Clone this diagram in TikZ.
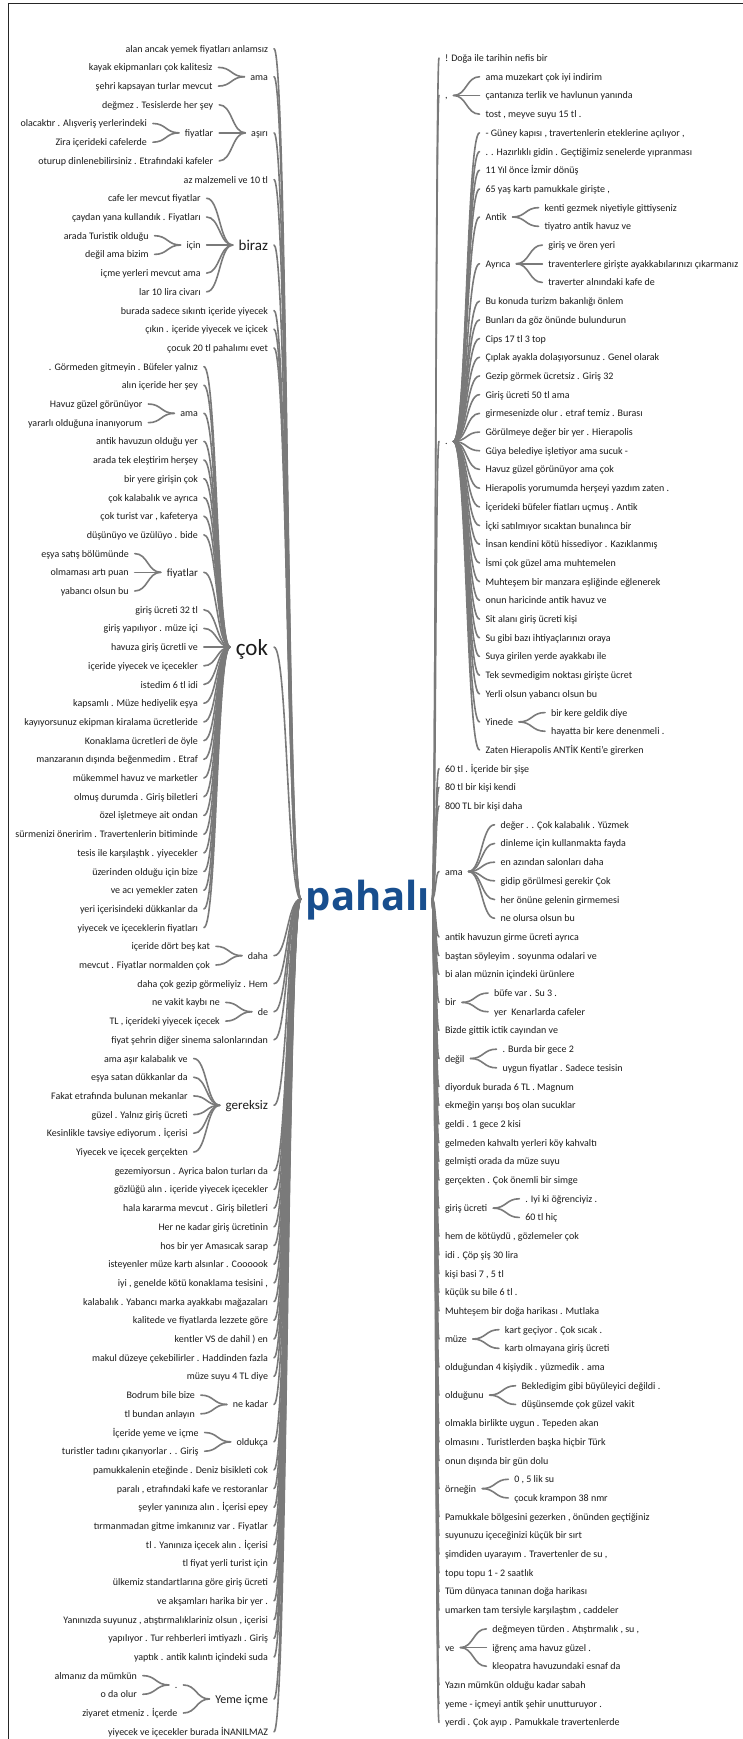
\documentclass[tikz,border=0pt]{standalone}
\usepackage{fontspec}
\setmainfont{Carlito}
\newfontfamily\rootfont{Open Sans}
\usetikzlibrary{calc}
\definecolor{textc}{RGB}{28,28,28}
\definecolor{linkc}{RGB}{122,122,122}
\definecolor{rootc}{RGB}{24,78,142}
\tikzset{
  w/.style={font=\fontsize{10}{12}\selectfont, inner sep=0pt, outer xsep=6pt, outer ysep=0pt,
            text height=8pt, text depth=1pt, text=textc},
  w11/.style={w, font=\fontsize{11}{13}\selectfont, text height=8.8pt, text depth=1.1pt},
  w12/.style={w, font=\fontsize{12}{14}\selectfont, text height=9.6pt, text depth=1.2pt},
  w13/.style={w, font=\fontsize{13}{15}\selectfont, text height=10.4pt, text depth=1.3pt},
  w15/.style={w, font=\fontsize{15}{17}\selectfont, text height=12pt, text depth=1.5pt},
  w23/.style={w, font=\fontsize{23}{26}\selectfont, text height=18.4pt, text depth=2.3pt},
  rootword/.style={font=\rootfont\bfseries\fontsize{40}{44}\selectfont, inner sep=0pt, outer sep=0pt,
            text height=30pt, text depth=8.4pt, text=rootc},
  link/.style={draw=linkc, line width=1.6pt, line cap=round},
  frame/.style={draw=black!85, line width=1.6pt}
}
% curved connector with both control points at the horizontal midpoint
\newcommand\wlink[2]{\draw[link] (#1) .. controls ($(#1)!0.5!(#2 |- #1)$) and ($(#2)!0.5!(#1 |- #2)$) .. (#2);}
% first-level words, hung on the two joints beside the root
\newcommand\wrl[4][w]{\node[#1, anchor=east] (#2) at (274,{30+18.7*#3}) {#4};\wlink{#2.east}{PL}}
\newcommand\wrr[4][w]{\node[#1, anchor=west] (#2) at (439,{39.35+18.7*#3}) {#4};\wlink{PR}{#2.west}}
% deeper words, placed beside their parent
\newcommand\wtl[5][w]{\node[#1, anchor=east, xshift=-26pt] (#2) at (#3.west |- 0,{30+18.7*#4}) {#5};\wlink{#2.east}{#3.west}}
\newcommand\wtr[5][w]{\node[#1, anchor=west, xshift=26pt] (#2) at (#3.east |- 0,{39.35+18.7*#4}) {#5};\wlink{#3.east}{#2.west}}

\begin{document}
\begin{tikzpicture}[x=1pt,y=-1pt]
\useasboundingbox (0,0) rectangle (743,1739);
\fill[white] (0,0) rectangle (743,1739);
\clip (0,0) rectangle (743,1739);
\draw[frame] (8.5,1745) -- (8.5,3.5) -- (750,3.5);

\node[rootword] (P) at (368,900) {pahalı};
\coordinate (PL) at ([xshift=-5pt,yshift=1pt]P.west);
\coordinate (PR) at ([xshift=2pt,yshift=1pt]P.east);

% ---------- words before "pahalı" ----------
\wrl{la}{1}{alan ancak yemek fiyatları anlamsız}
\wrl{lb}{2.5}{ama}
\wtl{lb1}{lb}{2}{kayak ekipmanları çok kalitesiz}
\wtl{lb2}{lb}{3}{şehri kapsayan turlar mevcut}
\wrl{lc}{5.5}{aşırı}
\wtl{lc1}{lc}{4}{değmez . Tesislerde her şey}
\wtl{lc2}{lc}{5.5}{fiyatlar}
\wtl{lc21}{lc2}{5}{olacaktır . Alışveriş yerlerindeki}
\wtl{lc22}{lc2}{6}{Zira içerideki cafelerde}
\wtl{lc3}{lc}{7}{oturup dinlenebilirsiniz . Etrafındaki kafeler}
\wrl{ld}{8}{az malzemeli ve 10 tl}
\wrl[w15]{le}{11.5}{biraz}
\wtl{le1}{le}{9}{cafe ler mevcut fiyatlar}
\wtl{le2}{le}{10}{çaydan yana kullandık . Fiyatları}
\wtl{le3}{le}{11.5}{için}
\wtl{le31}{le3}{11}{arada Turistik olduğu}
\wtl{le32}{le3}{12}{değil ama bizim}
\wtl{le4}{le}{13}{içme yerleri mevcut ama}
\wtl{le5}{le}{14}{lar 10 lira civarı}
\wrl{lf}{15}{burada sadece sıkıntı içeride yiyecek}
\wrl{lg}{16}{çıkın . içeride yiyecek ve içicek}
\wrl{lh}{17}{çocuk 20 tl pahalımı evet}
\wrl[w23]{lk}{33}{çok}
\wtl{lk01}{lk}{18}{. Görmeden gitmeyin . Büfeler yalnız}
\wtl{lk02}{lk}{19}{alın içeride her şey}
\wtl{lk03}{lk}{20.5}{ama}
\wtl{lk031}{lk03}{20}{Havuz güzel görünüyor}
\wtl{lk032}{lk03}{21}{yararlı olduğuna inanıyorum}
\wtl{lk04}{lk}{22}{antik havuzun olduğu yer}
\wtl{lk05}{lk}{23}{arada tek eleştirim herşey}
\wtl{lk06}{lk}{24}{bir yere girişin çok}
\wtl{lk07}{lk}{25}{çok kalabalık ve ayrıca}
\wtl{lk08}{lk}{26}{çok turist var , kafeterya}
\wtl{lk09}{lk}{27}{düşünüyo ve üzülüyo . bide}
\wtl[w11]{lk10}{lk}{29}{fiyatlar}
\wtl{lk101}{lk10}{28}{eşya satış bölümünde}
\wtl{lk102}{lk10}{29}{olmaması artı puan}
\wtl{lk103}{lk10}{30}{yabancı olsun bu}
\wtl{lk11}{lk}{31}{giriş ücreti 32 tl}
\wtl{lk12}{lk}{32}{giriş yapılıyor . müze içi}
\wtl{lk13}{lk}{33}{havuza giriş ücretli ve}
\wtl{lk14}{lk}{34}{içeride yiyecek ve içecekler}
\wtl{lk15}{lk}{35}{istedim 6 tl idi}
\wtl{lk16}{lk}{36}{kapsamlı . Müze hediyelik eşya}
\wtl{lk17}{lk}{37}{kayıyorsunuz ekipman kiralama ücretleride}
\wtl{lk18}{lk}{38}{Konaklama ücretleri de öyle}
\wtl{lk19}{lk}{39}{manzaranın dışında beğenmedim . Etraf}
\wtl{lk20}{lk}{40}{mükemmel havuz ve marketler}
\wtl{lk21}{lk}{41}{olmuş durumda . Giriş biletleri}
\wtl{lk22}{lk}{42}{özel işletmeye ait ondan}
\wtl{lk23}{lk}{43}{sürmenizi öneririm . Travertenlerin bitiminde}
\wtl{lk24}{lk}{44}{tesis ile karşılaştık . yiyecekler}
\wtl{lk25}{lk}{45}{üzerinden olduğu için bize}
\wtl{lk26}{lk}{46}{ve acı yemekler zaten}
\wtl{lk27}{lk}{47}{yeri içerisindeki dükkanlar da}
\wtl{lk28}{lk}{48}{yiyecek ve içeceklerin fiyatları}
\wrl{lm}{49.5}{daha}
\wtl{lm1}{lm}{49}{içeride dört beş kat}
\wtl{lm2}{lm}{50}{mevcut . Fiyatlar normalden çok}
\wrl{ln}{51}{daha çok gezip görmeliyiz . Hem}
\wrl{lo}{52.5}{de}
\wtl{lo1}{lo}{52}{ne vakit kaybı ne}
\wtl{lo2}{lo}{53}{TL , içerideki yiyecek içecek}
\wrl{lp}{54}{fiyat şehrin diğer sinema salonlarından}
\wrl[w13]{lq}{57.5}{gereksiz}
\wtl{lq1}{lq}{55}{ama aşır kalabalık ve}
\wtl{lq2}{lq}{56}{eşya satan dükkanlar da}
\wtl{lq3}{lq}{57}{Fakat etrafında bulunan mekanlar}
\wtl{lq4}{lq}{58}{güzel . Yalnız giriş ücreti}
\wtl{lq5}{lq}{59}{Kesinlikle tavsiye ediyorum . İçerisi}
\wtl{lq6}{lq}{60}{Yiyecek ve içecek gerçekten}
\wrl{lr01}{61}{gezemiyorsun . Ayrica balon turları da}
\wrl{lr02}{62}{gözlüğü alın . içeride yiyecek içecekler}
\wrl{lr03}{63}{hala kararma mevcut . Giriş biletleri}
\wrl{lr04}{64}{Her ne kadar giriş ücretinin}
\wrl{lr05}{65}{hos bir yer Amasıcak sarap}
\wrl{lr06}{66}{isteyenler müze kartı alsınlar . Coooook}
\wrl{lr07}{67}{iyi , genelde kötü konaklama tesisini ,}
\wrl{lr08}{68}{kalabalık . Yabancı marka ayakkabı mağazaları}
\wrl{lr09}{69}{kalitede ve fiyatlarda lezzete göre}
\wrl{lr10}{70}{kentler VS de dahil ) en}
\wrl{lr11}{71}{makul düzeye çekebilirler . Haddinden fazla}
\wrl{lr12}{72}{müze suyu 4 TL diye}
\wrl{ls}{73.5}{ne kadar}
\wtl{ls1}{ls}{73}{Bodrum bile bize}
\wtl{ls2}{ls}{74}{tl bundan anlayın}
\wrl{lt}{75.5}{oldukça}
\wtl{lt1}{lt}{75}{İçeride yeme ve içme}
\wtl{lt2}{lt}{76}{turistler tadını çıkarıyorlar . . Giriş}
\wrl{lu01}{77}{pamukkalenin eteğinde . Deniz bisikleti cok}
\wrl{lu02}{78}{paralı , etrafındaki kafe ve restoranlar}
\wrl{lu03}{79}{şeyler yanınıza alın . İçerisi epey}
\wrl{lu04}{80}{tırmanmadan gitme imkanınız var . Fiyatlar}
\wrl{lu05}{81}{tl . Yanınıza içecek alın . İçerisi}
\wrl{lu06}{82}{tl fiyat yerli turist için}
\wrl{lu07}{83}{ülkemiz standartlarına göre giriş ücreti}
\wrl{lu08}{84}{ve akşamları harika bir yer .}
\wrl{lu09}{85}{Yanınızda suyunuz , atıştırmalıklariniz olsun , içerisi}
\wrl{lu10}{86}{yapılıyor . Tur rehberleri imtiyazlı . Giriş}
\wrl{lu11}{87}{yaptık . antik kalıntı içindeki suda}
\wrl[w12]{lv}{89.25}{Yeme içme}
\wtl{lv1}{lv}{88.5}{.}
\wtl{lv11}{lv1}{88}{almanız da mümkün}
\wtl{lv12}{lv1}{89}{o da olur}
\wtl{lv2}{lv}{90}{ziyaret etmeniz . İçerde}
\wrl{lw}{91}{yiyecek ve içecekler burada İNANILMAZ}

% ---------- words after "pahalı" ----------
\wrr{ra}{1}{! Doğa ile tarihin nefis bir}
\wrr{rb}{3}{,}
\wtr{rb1}{rb}{2}{ama muzekart çok iyi indirim}
\wtr{rb2}{rb}{3}{çantanıza terlik ve havlunun yanında}
\wtr{rb3}{rb}{4}{tost , meyve suyu 15 tl .}
\wrr{rc}{21.5}{.}
\wtr{rc01}{rc}{5}{- Güney kapısı , travertenlerin eteklerine açılıyor ,}
\wtr{rc02}{rc}{6}{. . Hazırlıklı gidin . Geçtiğimiz senelerde yıpranması}
\wtr{rc03}{rc}{7}{11 Yıl önce İzmir dönüş}
\wtr{rc04}{rc}{8}{65 yaş kartı pamukkale girişte ,}
\wtr{rc05}{rc}{9.5}{Antik}
\wtr{rc051}{rc05}{9}{kenti gezmek niyetiyle gittiyseniz}
\wtr{rc052}{rc05}{10}{tiyatro antik havuz ve}
\wtr{rc06}{rc}{12}{Ayrıca}
\wtr{rc061}{rc06}{11}{giriş ve ören yeri}
\wtr{rc062}{rc06}{12}{traventerlere girişte ayakkabılarınızı çıkarmanız}
\wtr{rc063}{rc06}{13}{traverter alnındaki kafe de}
\wtr{rc07}{rc}{14}{Bu konuda turizm bakanlığı önlem}
\wtr{rc08}{rc}{15}{Bunları da göz önünde bulundurun}
\wtr{rc09}{rc}{16}{Cips 17 tl 3 top}
\wtr{rc10}{rc}{17}{Çıplak ayakla dolaşıyorsunuz . Genel olarak}
\wtr{rc11}{rc}{18}{Gezip görmek ücretsiz . Giriş 32}
\wtr{rc12}{rc}{19}{Giriş ücreti 50 tl ama}
\wtr{rc13}{rc}{20}{girmesenizde olur . etraf temiz . Burası}
\wtr{rc14}{rc}{21}{Görülmeye değer bir yer . Hierapolis}
\wtr{rc15}{rc}{22}{Güya belediye işletiyor ama sucuk -}
\wtr{rc16}{rc}{23}{Havuz güzel görünüyor ama çok}
\wtr{rc17}{rc}{24}{Hierapolis yorumumda herşeyi yazdım zaten .}
\wtr{rc18}{rc}{25}{İçerideki büfeler fiatları uçmuş . Antik}
\wtr{rc19}{rc}{26}{İçki satılmıyor sıcaktan bunalınca bir}
\wtr{rc20}{rc}{27}{İnsan kendini kötü hissediyor . Kazıklanmış}
\wtr{rc21}{rc}{28}{İsmi çok güzel ama muhtemelen}
\wtr{rc22}{rc}{29}{Muhteşem bir manzara eşliğinde eğlenerek}
\wtr{rc23}{rc}{30}{onun haricinde antik havuz ve}
\wtr{rc24}{rc}{31}{Sit alanı giriş ücreti kişi}
\wtr{rc25}{rc}{32}{Su gibi bazı ihtiyaçlarınızı oraya}
\wtr{rc26}{rc}{33}{Suya girilen yerde ayakkabı ile}
\wtr{rc27}{rc}{34}{Tek sevmedigim noktası girişte ücret}
\wtr{rc28}{rc}{35}{Yerli olsun yabancı olsun bu}
\wtr{rc29}{rc}{36.5}{Yinede}
\wtr{rc291}{rc29}{36}{bir kere geldik diye}
\wtr{rc292}{rc29}{37}{hayatta bir kere denenmeli .}
\wtr{rc30}{rc}{38}{Zaten Hierapolis ANTİK Kenti'e girerken}
\wrr{rd1}{39}{60 tl . İçeride bir şişe}
\wrr{rd2}{40}{80 tl bir kişi kendi}
\wrr{rd3}{41}{800 TL bir kişi daha}
\wrr{re}{44.5}{ama}
\wtr{re1}{re}{42}{değer . . Çok kalabalık . Yüzmek}
\wtr{re2}{re}{43}{dinleme için kullanmakta fayda}
\wtr{re3}{re}{44}{en azından salonları daha}
\wtr{re4}{re}{45}{gidip görülmesi gerekir Çok}
\wtr{re5}{re}{46}{her önüne gelenin girmemesi}
\wtr{re6}{re}{47}{ne olursa olsun bu}
\wrr{rf1}{48}{antik havuzun girme ücreti ayrıca}
\wrr{rf2}{49}{baştan söyleyim . soyunma odalari ve}
\wrr{rf3}{50}{bi alan müznin içindeki ürünlere}
\wrr{rg}{51.5}{bir}
\wtr{rg1}{rg}{51}{büfe var . Su 3 .}
\wtr{rg2}{rg}{52}{yer~ Kenarlarda cafeler}
\wrr{rh}{53}{Bizde gittik ictik cayından ve}
\wrr{ri}{54.5}{değil}
\wtr{ri1}{ri}{54}{. Burda bir gece 2}
\wtr{ri2}{ri}{55}{uygun fiyatlar . Sadece tesisin}
\wrr{rj1}{56}{diyorduk burada 6 TL . Magnum}
\wrr{rj2}{57}{ekmeğin yarışı boş olan sucuklar}
\wrr{rj3}{58}{geldi . 1 gece 2 kisi}
\wrr{rj4}{59}{gelmeden kahvaltı yerleri köy kahvaltı}
\wrr{rj5}{60}{gelmişti orada da müze suyu}
\wrr{rj6}{61}{gerçekten . Çok önemli bir simge}
\wrr{rk}{62.5}{giriş ücreti}
\wtr{rk1}{rk}{62}{. Iyi ki öğrenciyiz .}
\wtr{rk2}{rk}{63}{60 tl hiç}
\wrr{rl1}{64}{hem de kötüydü , gözlemeler çok}
\wrr{rl2}{65}{idi . Çöp şiş 30 lira}
\wrr{rl3}{66}{kişi basi 7 , 5 tl}
\wrr{rl4}{67}{küçük su bile 6 tl .}
\wrr{rl5}{68}{Muhteşem bir doğa harikası . Mutlaka}
\wrr{rm}{69.5}{müze}
\wtr{rm1}{rm}{69}{kart geçiyor . Çok sıcak .}
\wtr{rm2}{rm}{70}{kartı olmayana giriş ücreti}
\wrr{rn}{71}{olduğundan 4 kişiydik . yüzmedik . ama}
\wrr{ro}{72.5}{olduğunu}
\wtr{ro1}{ro}{72}{Bekledigim gibi büyüleyici değildi .}
\wtr{ro2}{ro}{73}{düşünsemde çok güzel vakit}
\wrr{rp1}{74}{olmakla birlikte uygun . Tepeden akan}
\wrr{rp2}{75}{olmasını . Turistlerden başka hiçbir Türk}
\wrr{rp3}{76}{onun dışında bir gün dolu}
\wrr{rq}{77.5}{örneğin}
\wtr{rq1}{rq}{77}{0 , 5 lik su}
\wtr{rq2}{rq}{78}{çocuk krampon 38 nmr}
\wrr{rs1}{79}{Pamukkale bölgesini gezerken , önünden geçtiğiniz}
\wrr{rs2}{80}{suyunuzu içeceğinizi küçük bir sırt}
\wrr{rs3}{81}{şimdiden uyarayım . Travertenler de su ,}
\wrr{rs4}{82}{topu topu 1 - 2 saatlık}
\wrr{rs5}{83}{Tüm dünyaca tanınan doğa harikası}
\wrr{rs6}{84}{umarken tam tersiyle karşılaştım , caddeler}
\wrr{rt}{86}{ve}
\wtr{rt1}{rt}{85}{değmeyen türden . Atıştırmalık , su ,}
\wtr{rt2}{rt}{86}{iğrenç ama havuz güzel .}
\wtr{rt3}{rt}{87}{kleopatra havuzundaki esnaf da}
\wrr{ru1}{88}{Yazın mümkün olduğu kadar sabah}
\wrr{ru2}{89}{yeme - içmeyi antik şehir unutturuyor .}
\wrr{ru3}{90}{yerdi . Çok ayıp . Pamukkale travertenlerde}
\end{tikzpicture}
\end{document}
